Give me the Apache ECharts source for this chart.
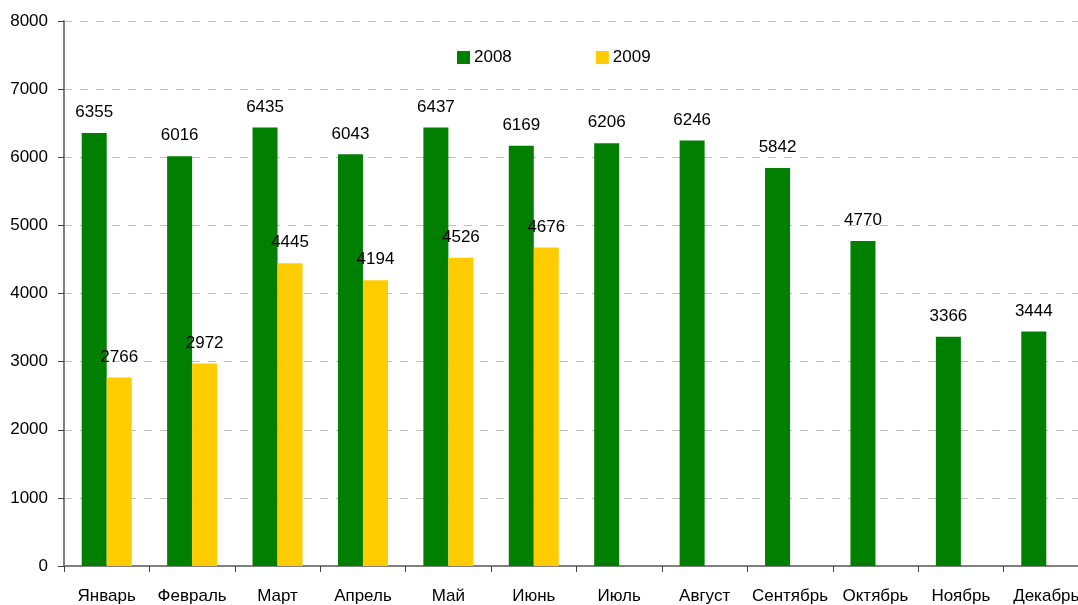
<!DOCTYPE html>
<html>
<head>
<meta charset="utf-8">
<script src="https://cdn.jsdelivr.net/npm/echarts@6/dist/echarts.min.js"></script>
<style>
html, body { margin: 0; padding: 0; background: #fff; }
#chart { width: 1078px; height: 605px; }
</style>
</head>
<body>
<div id="chart"></div>
<script>
// месяцы
var months = ['Январь', 'Февраль', 'Март', 'Апрель', 'Май', 'Июнь', 'Июль', 'Август', 'Сентябрь', 'Октябрь', 'Ноябрь', 'Декабрь'];
var values2008 = [6355, 6016, 6435, 6043, 6437, 6169, 6206, 6246, 5842, 4770, 3366, 3444];
var values2009 = [2766, 2972, 4445, 4194, 4526, 4676, '-', '-', '-', '-', '-', '-'];
var yTicks = [0, 8000, 1000]; // min, max, interval

var font = 'Liberation Sans, Arial, sans-serif';
var mycharts = echarts.init(document.getElementById('chart'));

mycharts.setOption({
    animation: false,
    textStyle: { fontFamily: font },
    legend: {
        left: 452,
        top: 44,
        itemWidth: 13,
        itemHeight: 13,
        itemGap: 84,
        icon: 'rect',
        textStyle: { fontSize: 17, color: '#000', fontFamily: font, padding: [0, 0, 0, -1] },
        data: ['2008', '2009']
    },
    grid: {
        left: 64,
        top: 21,
        bottom: 39,
        width: 1025,
        containLabel: false,
        outerBoundsMode: 'none'
    },
    xAxis: {
        type: 'category',
        data: months,
        axisLine: { lineStyle: { color: '#808080', width: 2 } },
        axisTick: { show: true, length: 6, lineStyle: { color: '#404040' } },
        axisLabel: { fontSize: 17, color: '#000', margin: 22, fontFamily: font, interval: 0 }
    },
    yAxis: {
        type: 'value',
        min: yTicks[0],
        max: yTicks[1],
        interval: yTicks[2],
        axisLine: { show: true, lineStyle: { color: '#808080', width: 2 } },
        axisTick: { show: true, length: 6, lineStyle: { color: '#404040' } },
        axisLabel: { fontSize: 17, color: '#000', margin: 16, fontFamily: font, formatter: function (v) { return String(v); } },
        splitLine: { lineStyle: { color: '#c0c0c0', type: [8, 8] } }
    },
    series: [
        {
            name: '2008',
            type: 'bar',
            data: values2008,
            barWidth: 25,
            barGap: '0%',
            itemStyle: { color: '#007f00' },
            label: {
                show: true,
                position: 'top',
                distance: 12,
                fontSize: 17,
                color: '#000',
                fontFamily: font
            }
        },
        {
            name: '2009',
            type: 'bar',
            data: values2009,
            barWidth: 25,
            barGap: '0%',
            itemStyle: { color: '#ffcc00' },
            label: {
                show: true,
                position: 'top',
                distance: 12,
                fontSize: 17,
                color: '#000',
                fontFamily: font
            }
        }
    ]
});
</script>
</body>
</html>
